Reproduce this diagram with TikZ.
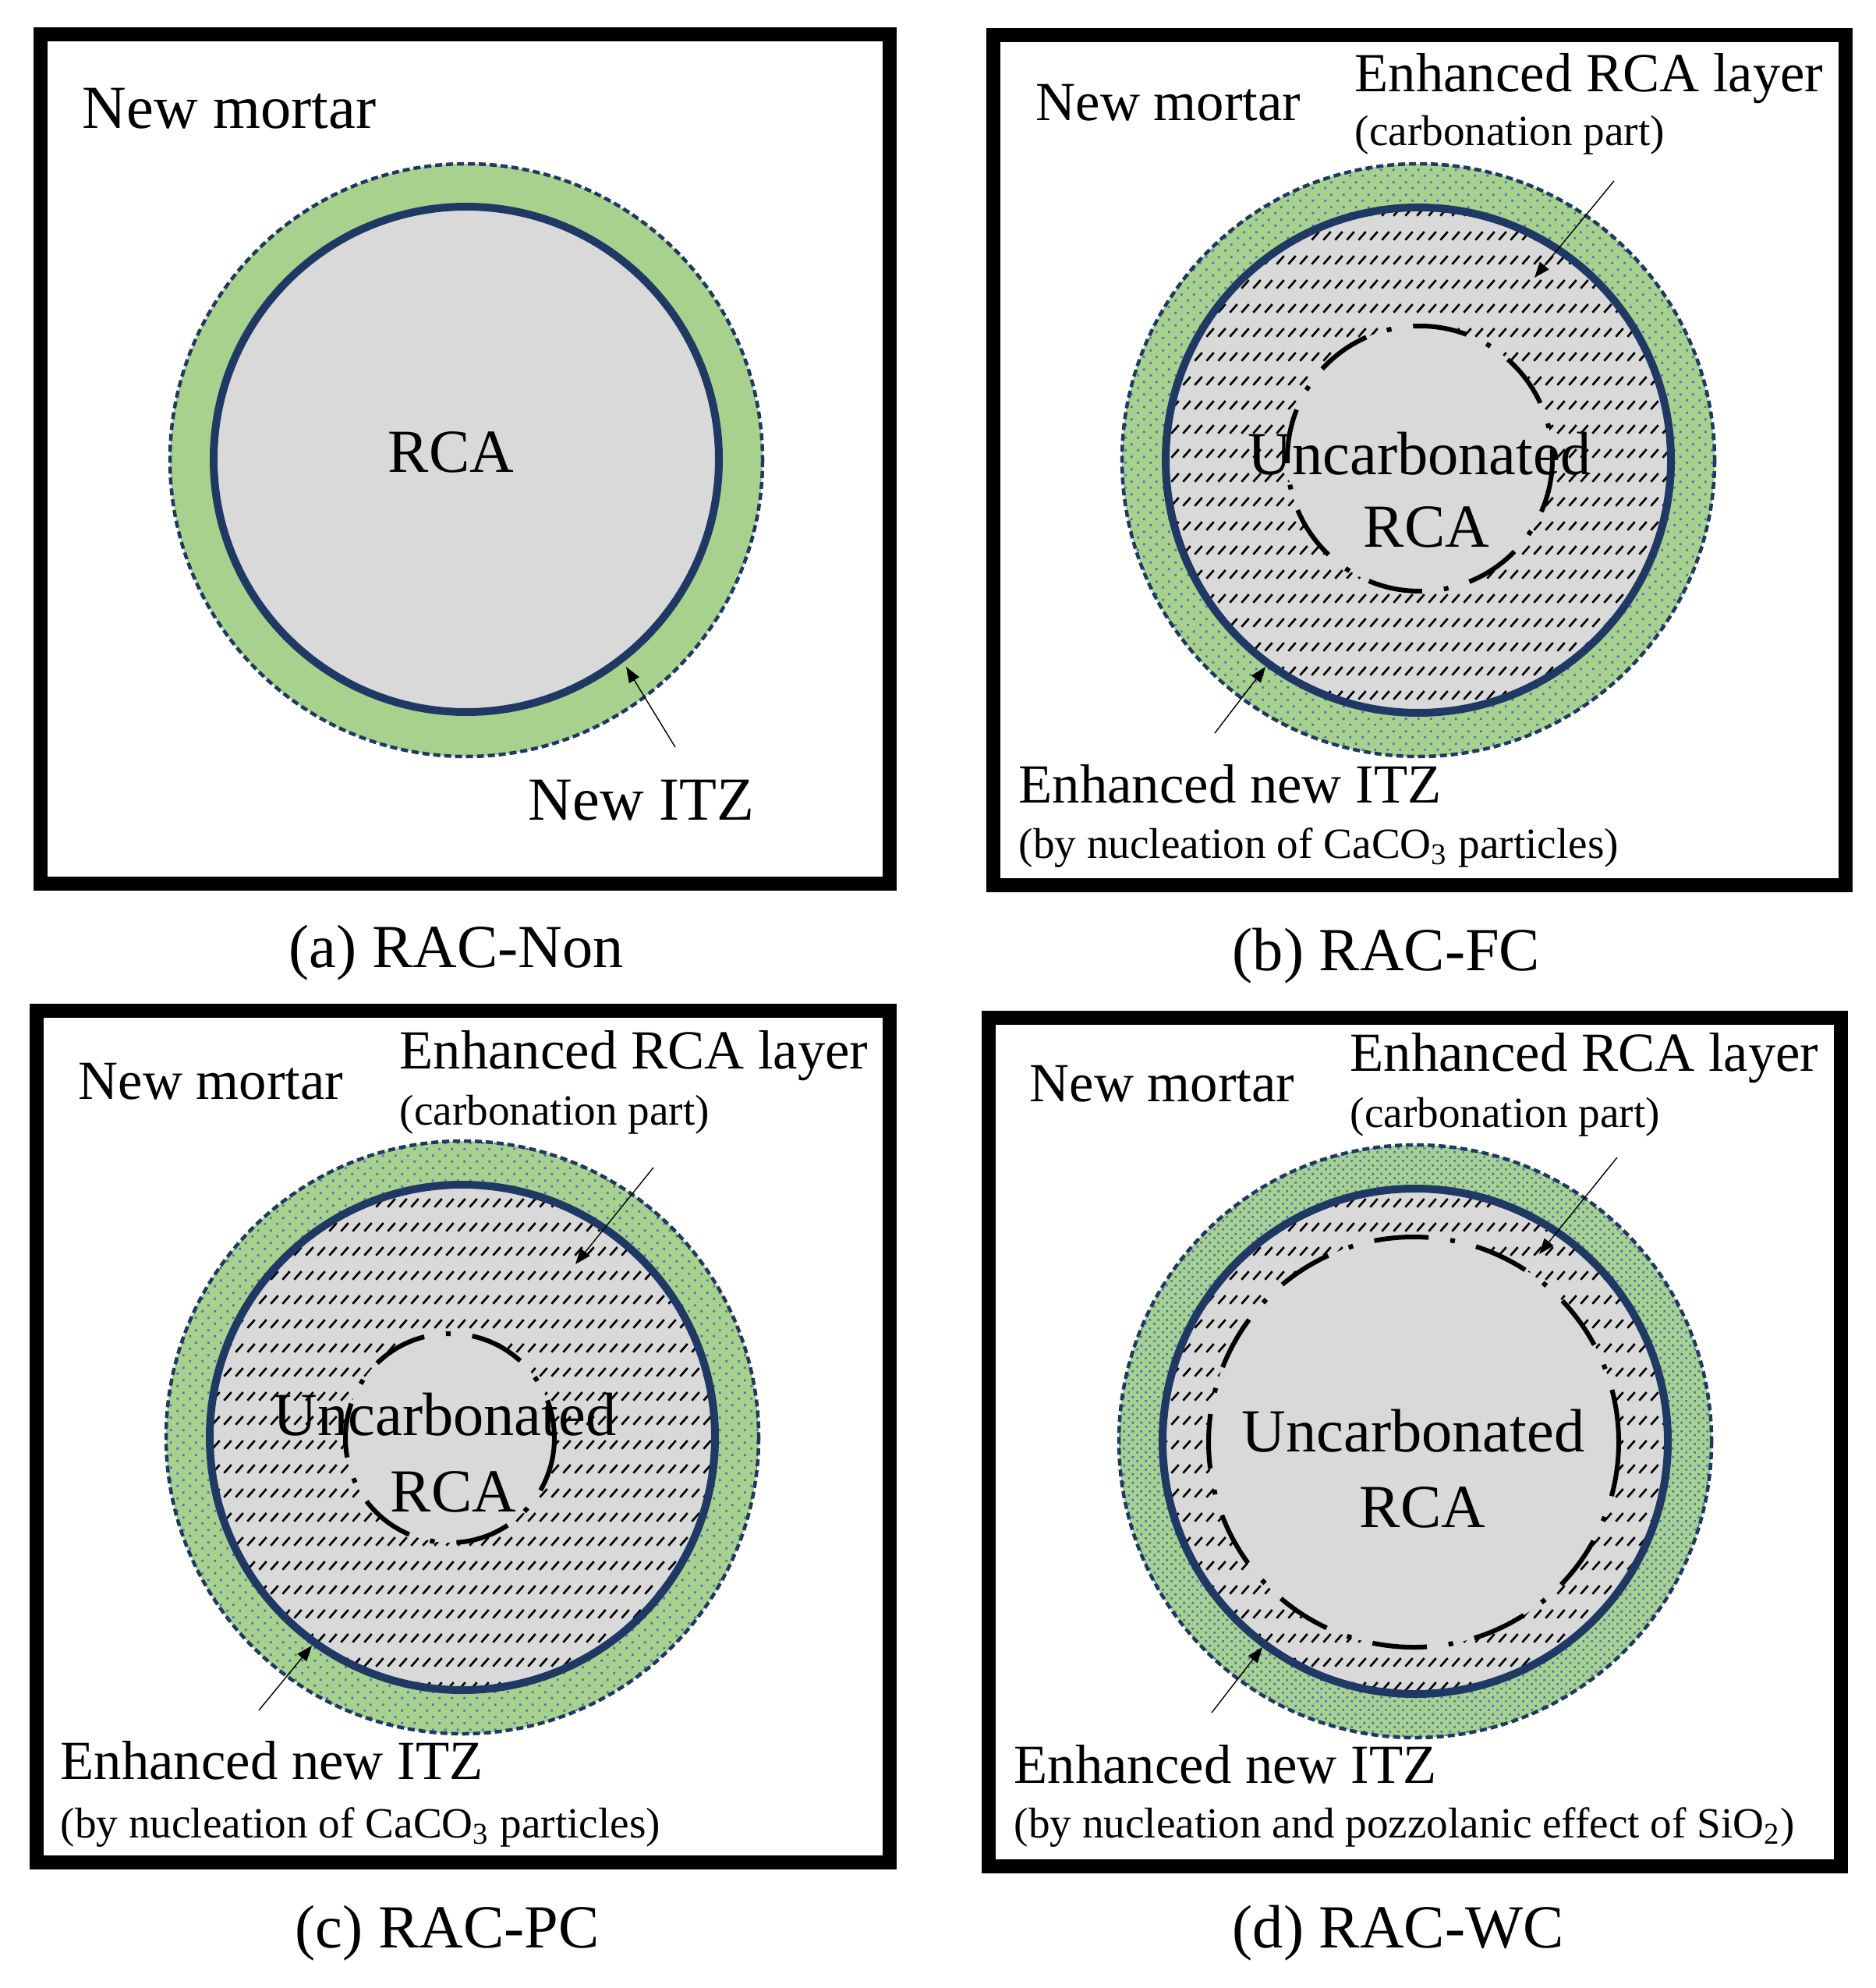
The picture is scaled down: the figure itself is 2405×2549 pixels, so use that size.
\documentclass[tikz,border=0pt]{standalone}
\usepackage{fontspec}
\setmainfont{Liberation Serif}
\usetikzlibrary{patterns,arrows.meta}
\definecolor{navy}{HTML}{1F3864}
\definecolor{itzgreen}{HTML}{A9D18E}
\definecolor{rcagray}{HTML}{D9D9D9}
\definecolor{dotblue}{HTML}{4472C4}
\pgfdeclarepatternformonly{sparsedots}{\pgfpointorigin}{\pgfpoint{0.16cm}{0.16cm}}{\pgfpoint{0.16cm}{0.16cm}}{%
  \pgfpathrectangle{\pgfpoint{0.025cm}{0.025cm}}{\pgfpoint{0.03cm}{0.03cm}}%
  \pgfpathrectangle{\pgfpoint{0.105cm}{0.105cm}}{\pgfpoint{0.03cm}{0.03cm}}%
  \pgfusepath{fill}}
\pgfdeclarepatternformonly{densedots}{\pgfpointorigin}{\pgfpoint{0.107cm}{0.107cm}}{\pgfpoint{0.107cm}{0.107cm}}{%
  \pgfpathrectangle{\pgfpoint{0.013cm}{0.013cm}}{\pgfpoint{0.028cm}{0.028cm}}%
  \pgfpathrectangle{\pgfpoint{0.0665cm}{0.0665cm}}{\pgfpoint{0.028cm}{0.028cm}}%
  \pgfusepath{fill}}
\pgfdeclarepatternformonly{slashrows}{\pgfpointorigin}{\pgfpoint{0.15cm}{0.31cm}}{\pgfpoint{0.15cm}{0.31cm}}{%
  \pgfsetlinewidth{0.028cm}%
  \pgfpathmoveto{\pgfpoint{0.025cm}{0.095cm}}%
  \pgfpathlineto{\pgfpoint{0.125cm}{0.205cm}}%
  \pgfusepath{stroke}}
\tikzset{
  panelframe/.style={draw=black, line width=0.18cm},
  itzfill/.style={fill=itzgreen},
  itzedge/.style={draw=navy, line width=0.045cm, dash pattern=on 0.09cm off 0.05cm},
  sparsedot/.style={pattern=sparsedots, pattern color=dotblue},
  densedot/.style={pattern=densedots, pattern color=dotblue},
  rcafill/.style={fill=rcagray},
  hatchfill/.style={pattern=slashrows, pattern color=black},
  rcaedge/.style={draw=navy, line width=0.1cm},
  carbfront/.style={draw=black, line width=0.06cm, dash pattern=on 0.7cm off 0.28cm on 0.06cm off 0.28cm},
  bigtxt/.style={font=\fontsize{22.3}{26}\selectfont, anchor=base west, inner sep=0pt},
  midtxt/.style={font=\fontsize{20.1}{24}\selectfont, anchor=base west, inner sep=0pt},
  smalltxt/.style={font=\fontsize{15.7}{19}\selectfont, anchor=base west, inner sep=0pt},
  pointer/.style={-{Triangle[length=0.2cm,width=0.15cm]}, line width=0.014cm, draw=black}
}
\begin{document}
\begin{tikzpicture}[x=0.01cm, y=-0.01cm]
\useasboundingbox (0,0) rectangle (2405,2549);

% ---------------- (a) RAC-Non ----------------
\draw[panelframe] (52,44) rectangle (1141,1133);
\path[itzfill] (598,590) circle (380);
\draw[itzedge] (598,590) circle (380);
\path[rcafill] (598,589) circle (324);
\draw[rcaedge] (598,589) circle (324);
\node[bigtxt] (aMortar) at (105,165) {New mortar};
\node[bigtxt] (aRCA) at (497,606) {RCA};
\node[bigtxt] (aITZ) at (677,1051) {New ITZ};
\node[bigtxt] (aCap) at (370,1240) {(a) RAC-Non};
\coordinate (aTail) at (866,958);
\coordinate (aHead) at (803,855);
\draw[pointer] (aTail) -- (aHead);

% ---------------- (b) RAC-FC ----------------
\draw[panelframe] (1274,45) rectangle (2367,1135);
\path[itzfill] (1819,590) circle (380);
\path[sparsedot] (1819,590) circle (380);
\draw[itzedge] (1819,590) circle (380);
\path[rcafill] (1819,590) circle (324);
\path[hatchfill] (1819,590) circle (324);
\path[rcafill] (1821,588) circle (170);
\draw[rcaedge] (1819,590) circle (324);
\draw[carbfront] (1821,588) circle (170);
\node[midtxt] (bMortar) at (1328,155) {New mortar};
\node[midtxt] (bLayer) at (1737,118) {Enhanced RCA layer};
\node[smalltxt] (bLayerSub) at (1737,187) {(carbonation part)};
\node[bigtxt] (bUnc) at (1600,608) {Uncarbonated};
\node[bigtxt] (bRCA) at (1748,702) {RCA};
\node[midtxt] (bITZ) at (1306,1029) {Enhanced new ITZ};
\node[smalltxt] (bITZSub) at (1306,1100) {(by nucleation of CaCO\textsubscript{3} particles)};
\node[bigtxt] (bCap) at (1580,1244) {(b) RAC-FC};
\coordinate (bTailA) at (2070,232);
\coordinate (bHeadA) at (1968,356);
\coordinate (bTailB) at (1558,940);
\coordinate (bHeadB) at (1623,855);
\draw[pointer] (bTailA) -- (bHeadA);
\draw[pointer] (bTailB) -- (bHeadB);

% ---------------- (c) RAC-PC ----------------
\draw[panelframe] (47,1296) rectangle (1141,2388);
\path[itzfill] (593,1843) circle (380);
\path[sparsedot] (593,1843) circle (380);
\draw[itzedge] (593,1843) circle (380);
\path[rcafill] (593,1843) circle (324);
\path[hatchfill] (593,1843) circle (324);
\path[rcafill] (577,1844) circle (134);
\draw[rcaedge] (593,1843) circle (324);
\draw[carbfront] (577,1844) circle (134);
\node[midtxt] (cMortar) at (100,1409) {New mortar};
\node[midtxt] (cLayer) at (512,1370) {Enhanced RCA layer};
\node[smalltxt] (cLayerSub) at (512,1442) {(carbonation part)};
\node[bigtxt] (cUnc) at (350,1840) {Uncarbonated};
\node[bigtxt] (cRCA) at (500,1938) {RCA};
\node[midtxt] (cITZ) at (77,2281) {Enhanced new ITZ};
\node[smalltxt] (cITZSub) at (77,2356) {(by nucleation of CaCO\textsubscript{3} particles)};
\node[bigtxt] (cCap) at (378,2497) {(c) RAC-PC};
\coordinate (cTailA) at (838,1497);
\coordinate (cHeadA) at (738,1621);
\coordinate (cTailB) at (332,2193);
\coordinate (cHeadB) at (400,2110);
\draw[pointer] (cTailA) -- (cHeadA);
\draw[pointer] (cTailB) -- (cHeadB);

% ---------------- (d) RAC-WC ----------------
\draw[panelframe] (1268,1305) rectangle (2361,2393);
\path[itzfill] (1815,1848) circle (380);
\path[densedot] (1815,1848) circle (380);
\draw[itzedge] (1815,1848) circle (380);
\path[rcafill] (1815,1848) circle (324);
\path[hatchfill] (1815,1848) circle (324);
\path[rcafill] (1813,1849) circle (263);
\draw[rcaedge] (1815,1848) circle (324);
\draw[carbfront] (1813,1849) circle (263);
\node[midtxt] (dMortar) at (1320,1412) {New mortar};
\node[midtxt] (dLayer) at (1731,1373) {Enhanced RCA layer};
\node[smalltxt] (dLayerSub) at (1731,1445) {(carbonation part)};
\node[bigtxt] (dUnc) at (1592,1861) {Uncarbonated};
\node[bigtxt] (dRCA) at (1743,1958) {RCA};
\node[midtxt] (dITZ) at (1300,2286) {Enhanced new ITZ};
\node[smalltxt] (dITZSub) at (1300,2356) {(by nucleation and pozzolanic effect of SiO\textsubscript{2})};
\node[bigtxt] (dCap) at (1580,2497) {(d) RAC-WC};
\coordinate (dTailA) at (2074,1484);
\coordinate (dHeadA) at (1974,1608);
\coordinate (dTailB) at (1554,2196);
\coordinate (dHeadB) at (1619,2112);
\draw[pointer] (dTailA) -- (dHeadA);
\draw[pointer] (dTailB) -- (dHeadB);
\end{tikzpicture}
\end{document}
